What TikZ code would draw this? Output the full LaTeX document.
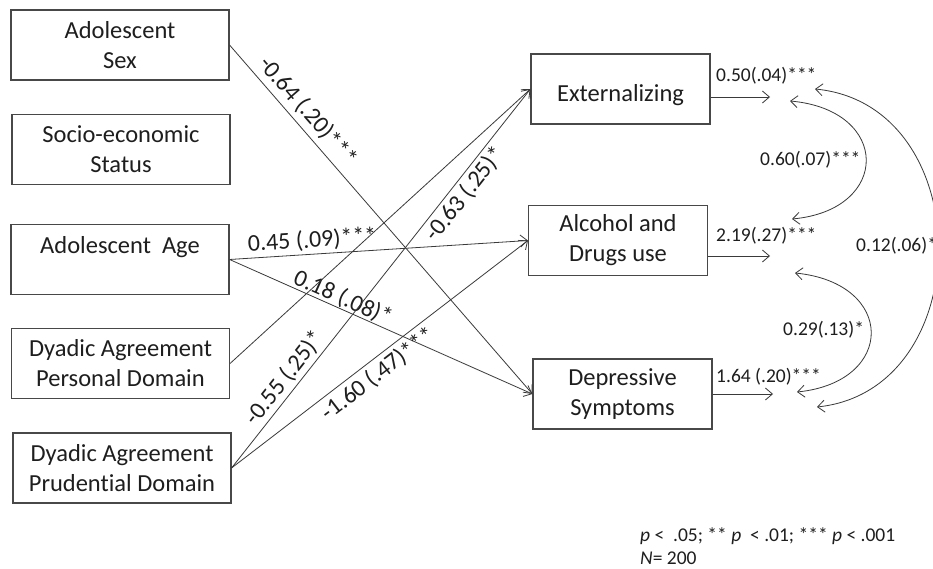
\documentclass[tikz,border=0pt]{standalone}
\usepackage{fontspec}
\setmainfont{Carlito}[RawFeature=-liga]
\usetikzlibrary{arrows.meta}

\begin{document}
\begin{tikzpicture}[
    x=1pt, y=-1pt,
    every node/.style={font=\fontsize{24.5}{30}\selectfont},
]

% ---------------------------------------------------------------- colours
\definecolor{ink}{HTML}{1E1E1E}      % box text, coefficients
\definecolor{boxline}{HTML}{484848}  % box frames
\definecolor{linecol}{HTML}{3A3A3A}  % paths and covariances

% ================================================================
% Geometry, in pixels of the 933 x 569 page, y running downwards.
%
%   predictors  218 x 70, centred at x = 120, y = 45 ... 468
%   outcomes    179 x 70, centred at x = 620, y = 89, 240, 394
%   residual arrows 60 long, their values written just above them
%   covariance arcs bulge to the right, the widest one leaves the page
% ================================================================

\tikzset{
    varbox/.style={
        draw=boxline, line width=1.1pt, fill=white,
        minimum width=218pt, minimum height=70pt,
        inner sep=0pt, align=center, text=ink,
    },
    outbox/.style={varbox, minimum width=179pt},
    coef/.style={font=\fontsize{24}{28}\selectfont, text=ink,
        sloped, inner sep=3pt},
    resid/.style={font=\fontsize{19.5}{23}\selectfont, text=ink,
        anchor=west, inner sep=0pt},
    note/.style={font=\fontsize{19.5}{23}\selectfont, text=ink,
        anchor=west, inner sep=0pt},
    arr/.style={draw=linecol, line width=0.8pt,
        -{Straight Barb[length=7pt, width=12pt]}},
    dbl/.style={draw=linecol, line width=0.8pt,
        {Straight Barb[length=7pt, width=12pt]}-{Straight Barb[length=7pt, width=12pt]}},
}

\path[use as bounding box, fill=white] (0,0) rectangle (933,569);

% ================================================================ predictors
\node[varbox] (sex)    at (120, 45)    {Adolescent\\Sex};
\node[varbox] (ses)    at (121, 149.5) {Socio-economic\\Status};
\node[varbox] (age)    at (120, 259.5) {Adolescent\ \ Age\\~};
\node[varbox] (dapers) at (120.5, 363.5) {Dyadic Agreement\\Personal Domain};
\node[varbox] (daprud) at (122, 468)   {Dyadic Agreement\\Prudential Domain};

% ================================================================ outcomes
\node[outbox] (ext) at (620.5, 89)  {~\\Externalizing};
\node[outbox] (alc) at (618, 240.5) {Alcohol and\\Drugs use};
\node[outbox] (dep) at (622.5, 394) {Depressive\\Symptoms};

% ================================================================ paths
\draw[arr] (sex.east) -- node[coef, pos=0.22, anchor=south, inner sep=5pt]
    {-0.64 (.20)***} (dep.west);
\draw[arr] (age.east) -- node[coef, pos=0.28, anchor=south]
    {0.45 (.09)***} (alc.west);
\draw[arr] (age.east) -- node[coef, pos=0.36, anchor=south, inner sep=0pt]
    {0.18 (.08)*} (dep.west);
\draw[arr] (dapers.east) -- (ext.west);
\draw[arr] (daprud.east)
    -- node[coef, pos=0.215, anchor=south] {-0.55 (.25)*}
       node[coef, pos=0.745, anchor=north] {-0.63 (.25)*} (ext.west);
\draw[arr] (daprud.east) -- node[coef, pos=0.465, anchor=north, inner sep=4pt]
    {-1.60 (.47)***} (alc.west);

% ================================================================ residuals
\coordinate (extr) at (770, 97);
\coordinate (alcr) at (770, 256);
\coordinate (depr) at (773, 394);

\draw[arr] (ext.east |- extr) -- (extr);
\draw[arr] (alc.east |- alcr) -- (alcr);
\draw[arr] (dep.east |- depr) -- (depr);

\node[resid] (rext) at (716, 76)  {0.50(.04)***};
\node[resid] (ralc) at (716, 236) {2.19(.27)***};
\node[resid] (rdep) at (716, 377) {1.64 (.20)***};

% ================================================================ covariances
\coordinate (ea) at (790, 101);
\coordinate (aa) at (792, 219);
\coordinate (ab) at (795, 273);
\coordinate (da) at (797, 392);
\coordinate (eb) at (815, 89);
\coordinate (db) at (817, 407);

\draw[dbl] (ea) .. controls (891, 110) and (891, 210) .. (aa);
\draw[dbl] (ab) .. controls (896, 283) and (896, 382) .. (da);
\draw[dbl] (eb) .. controls (979, 105) and (979, 390) .. (db);

\node[resid] (cea) at (760, 160) {0.60(.07)***};
\node[resid] (cad) at (783, 330) {0.29(.13)*};
\node[resid, fill=white, inner sep=1pt] (ced) at (855, 246) {0.12(.06)*};

% ================================================================ note
\node[note] (sig) at (640, 536)
    {\textit{p} <\ \ .05; ** \textit{p}\ \ < .01; *** \textit{p} < .001};
\node[note] (nn) at (640, 558) {\textit{N}= 200};

\end{tikzpicture}
\end{document}
